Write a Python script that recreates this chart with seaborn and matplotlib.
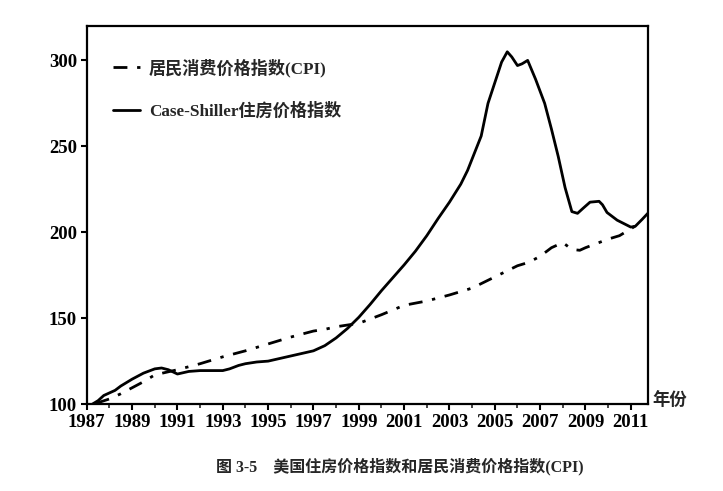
import pandas as pd
import seaborn as sns
import matplotlib.pyplot as plt

# Case-Shiller home price index
cs_year = [1987.25, 1987.5, 1987.75, 1988.0, 1988.25, 1988.5, 1988.75, 1989.0, 1989.5,
           1990.0, 1990.3, 1990.6, 1991.0, 1991.5, 1992.0, 1992.5, 1993.0, 1993.3,
           1993.7, 1994.0, 1994.5, 1995.0, 1995.5, 1996.0, 1996.5, 1997.0, 1997.5,
           1998.0, 1998.5, 1999.0, 1999.5, 2000.0, 2000.5, 2001.0, 2001.5, 2002.0,
           2002.5, 2003.0, 2003.5, 2003.8, 2004.1, 2004.4, 2004.7, 2005.0, 2005.3,
           2005.55, 2005.75, 2006.0, 2006.2, 2006.45, 2006.8, 2007.2, 2007.5, 2007.8,
           2008.1, 2008.4, 2008.65, 2008.9, 2009.2, 2009.6, 2009.75, 2009.95, 2010.4,
           2010.7, 2011.0, 2011.2, 2011.5, 2011.75]
cs_value = [100, 102, 105, 106.5, 108, 110.5, 112.5, 114.5, 118,
            120.5, 121, 120, 117.5, 119, 119.5, 119.5, 119.5, 120.5,
            122.5, 123.5, 124.5, 125, 126.5, 128, 129.5, 131, 134,
            138.5, 144, 150.5, 158, 166, 173.5, 181, 189, 198,
            208, 217.5, 228, 236, 246, 256, 275, 287, 299,
            305, 302, 297, 298, 300, 289, 275, 260, 244,
            226, 212, 211, 214, 217.5, 218, 216, 211.5, 207,
            205, 203, 203.5, 207.5, 211]

# CPI
cpi_year = [1987.4, 1988.0, 1988.5, 1989.0, 1989.5, 1990.0, 1990.5, 1991.0, 1992.0,
            1993.0, 1994.0, 1995.0, 1996.0, 1997.0, 1997.5, 1998.0, 1999.0, 2000.0,
            2001.0, 2002.0, 2003.0, 2004.0, 2005.0, 2006.0, 2006.5, 2007.0, 2007.5,
            2008.0, 2008.4, 2008.75, 2009.0, 2009.5, 2010.0, 2010.5, 2011.0, 2011.5]
cpi_value = [100.4, 103, 106, 109.5, 113, 117, 118.5, 120, 123.5,
             127.5, 131, 135, 139, 142.5, 143.5, 145, 147, 152,
             157.5, 160, 163.5, 167.5, 174, 180.5, 182.5, 186, 191,
             194, 190, 189.5, 191, 193.5, 196, 198, 202, 206]

year_ticks = list(range(1987, 2012, 2))
y_ticks = [100, 150, 200, 250, 300]

cpi_label = "居民消费价格指数(CPI)"
cs_label = "Case-Shiller住房价格指数"
caption = "图 3-5    美国住房价格指数和居民消费价格指数(CPI)"

sns.set_theme(style="ticks")
plt.rcParams['font.family'] = ['Liberation Serif', 'Noto Sans CJK SC']
plt.rcParams['font.weight'] = 'bold'

df_cpi = pd.DataFrame({'year': cpi_year, 'value': cpi_value})
df_cs = pd.DataFrame({'year': cs_year, 'value': cs_value})

fig = plt.figure(figsize=(7.23, 4.91), dpi=100)
ax = fig.add_axes([0.120, 0.177, 0.776, 0.770])

sns.lineplot(data=df_cpi, x='year', y='value', ax=ax, color='black', lw=2.0,
             linestyle=(0, (5, 3.5, 1.2, 3.5)), label=cpi_label)
sns.lineplot(data=df_cs, x='year', y='value', ax=ax, color='black', lw=2.0,
             label=cs_label)

ax.set_xlim(1987, 2011.75)
ax.set_ylim(100, 320)
ax.set_xticks(year_ticks)
ax.set_xticks(range(1987, 2012), minor=True)
ax.set_yticks(y_ticks)
ax.set_xlabel("")
ax.set_ylabel("")
ax.tick_params(axis='both', which='major', direction='out', length=4, width=1.5,
               labelsize=13.5, colors='black', pad=3)
ax.tick_params(axis='x', which='minor', direction='out', length=3, width=1.2)
for sp in ax.spines.values():
    sp.set_linewidth(1.6)
    sp.set_color('black')

leg = ax.legend(loc='upper left', bbox_to_anchor=(0.019, 0.955), frameon=False,
                handlelength=1.6, handletextpad=0.5, labelspacing=1.5,
                prop={'size': 12.3, 'weight': 'bold'})

fig.text(652 / 723, 1 - 401 / 491, "年份", ha='left', va='center', fontsize=12.5,
         fontweight='bold')
fig.text(400 / 723, 1 - 467 / 491, caption, ha='center', va='center', fontsize=11.5,
         fontweight='bold')

fig.savefig("out.png", dpi=100)
